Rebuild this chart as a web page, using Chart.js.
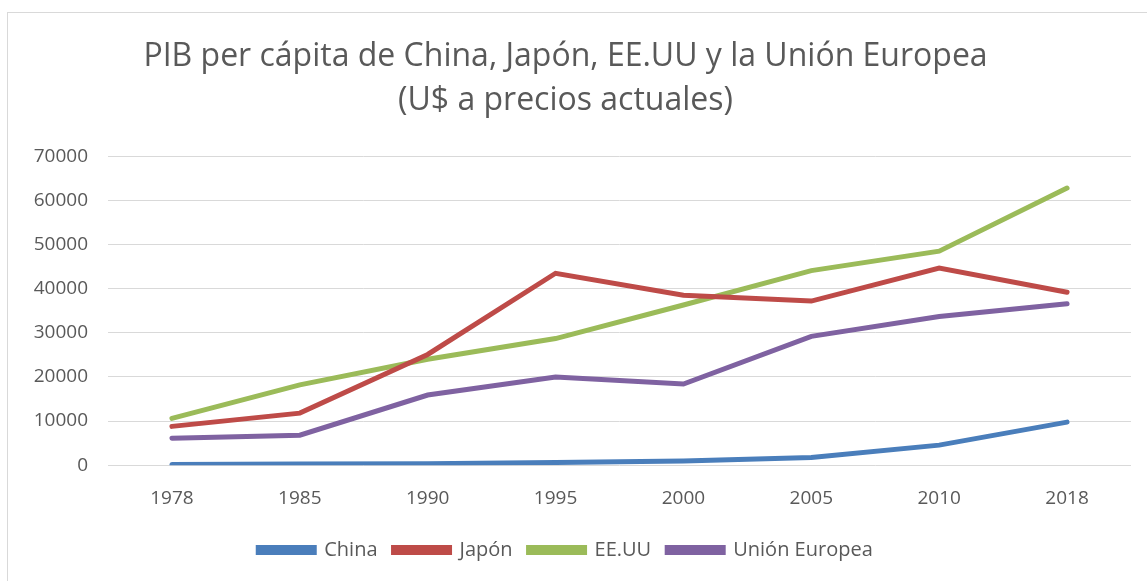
<!DOCTYPE html>
<html>
<head>
<meta charset="utf-8">
<script src="https://cdn.jsdelivr.net/npm/chart.js@4"></script>
<style>
  html, body { margin: 0; padding: 0; background: #fff; overflow: hidden; }
  #marco { position: absolute; left: 7px; top: 12px; width: 1300px; height: 800px; border: 1px solid #d9d9d9; }
  #wrap { position: absolute; left: 0; top: 0; width: 1147px; height: 581px; }
</style>
</head>
<body>
<div id="marco"></div>
<div id="wrap"><canvas id="grafico"></canvas></div>
<script>
// Años del eje X
const anios = ["1978", "1985", "1990", "1995", "2000", "2005", "2010", "2018"];

// PIB per cápita (U$ a precios actuales)
const china = [160, 290, 320, 610, 960, 1750, 4550, 9770];
const japon = [8800, 11800, 25100, 43500, 38500, 37200, 44700, 39200];
const eeuu = [10600, 18200, 24000, 28700, 36300, 44100, 48500, 62800];
const unionEuropea = [6100, 6800, 15900, 20000, 18400, 29200, 33700, 36600];

const colores = ["#4A7EBB", "#BE4B48", "#9BBB59", "#7F62A1"];
const fuente = "'Open Sans', sans-serif";
const gris = "#595959";

function serie(nombre, valores, color) {
    return {
        label: nombre,
        data: valores,
        borderColor: color,
        backgroundColor: color,
        borderWidth: 5,
        borderCapStyle: "round",
        pointRadius: 0,
        tension: 0
    };
}

const ctx = document.getElementById("grafico").getContext("2d");
new Chart(ctx, {
    type: "line",
    data: {
        labels: anios,
        datasets: [
            serie("China", china, colores[0]),
            serie("Japón", japon, colores[1]),
            serie("EE.UU", eeuu, colores[2]),
            serie("Unión Europea", unionEuropea, colores[3])
        ]
    },
    options: {
        responsive: true,
        maintainAspectRatio: false,
        animation: false,
        layout: { padding: { left: 0, right: 16, top: 35, bottom: 11 } },
        plugins: {
            title: {
                display: true,
                text: ["PIB per cápita de China, Japón, EE.UU y la Unión Europea", "(U$ a precios actuales)"],
                color: gris,
                font: { family: fuente, size: 32, weight: "normal", lineHeight: 1.38 },
                padding: { top: 0, bottom: 33 }
            },
            legend: {
                position: "bottom",
                labels: {
                    color: gris,
                    font: { family: fuente, size: 20 },
                    boxWidth: 56,
                    boxHeight: 5,
                    padding: 16
                }
            },
            tooltip: { enabled: false }
        },
        scales: {
            x: {
                offset: true,
                grid: { display: false },
                border: { display: false },
                ticks: { color: gris, font: { family: fuente, size: 19 }, padding: 14 }
            },
            y: {
                min: 0,
                max: 70000,
                afterFit: s => { s.width = 108; },
                grid: { color: "#d9d9d9", lineWidth: 1, drawTicks: false },
                border: { display: false },
                ticks: {
                    stepSize: 10000,
                    color: gris,
                    font: { family: fuente, size: 19 },
                    padding: 20,
                    callback: v => String(v)
                }
            }
        }
    }
});
</script>
</body>
</html>
